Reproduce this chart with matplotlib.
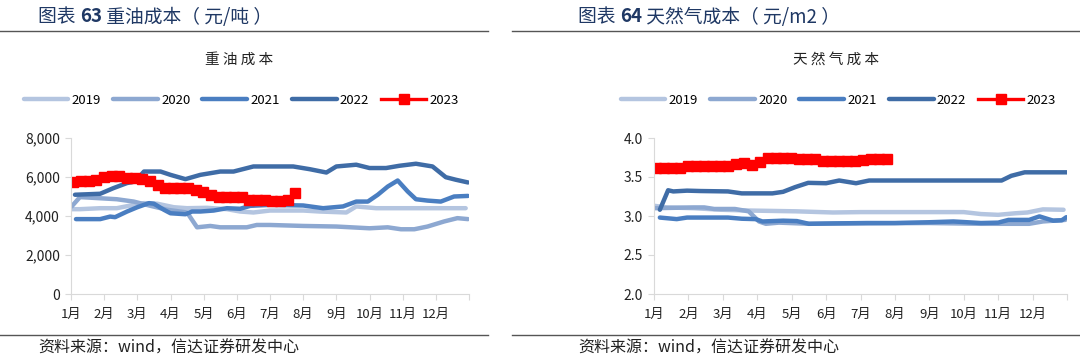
import numpy as np
import matplotlib
matplotlib.use('Agg')
import matplotlib.pyplot as plt

plt.rcParams['font.family'] = ['Noto Sans CJK SC', 'DejaVu Sans']

# month labels on x axis (position 0 = 1月)
months = ['1月', '2月', '3月', '4月', '5月', '6月', '7月', '8月', '9月', '10月', '11月', '12月']
years = ['2019', '2020', '2021', '2022', '2023']
colors = ['#B4C5E0', '#8DA8D1', '#4A7EC1', '#3F6CA6', '#FF0000']

# ---- heavy oil cost (元/吨), x in months ----
oil_2019_x = [0.02, 0.27, 0.88, 1.38, 1.89, 2.2, 2.6, 3.1, 3.5, 4.1, 4.7, 5.1, 5.5, 6.0, 7.0, 7.5, 8.3, 8.6, 9.2, 10.2, 11.9]
oil_2019_y = [4350, 4350, 4400, 4400, 4570, 4660, 4630, 4450, 4400, 4420, 4350, 4230, 4180, 4280, 4280, 4230, 4180, 4490, 4400, 4400, 4400]
oil_2020_x = [0.02, 0.27, 0.88, 1.38, 1.89, 2.4, 2.9, 3.5, 3.65, 3.8, 4.2, 4.5, 5.3, 5.6, 6.0, 7.0, 8.0, 9.0, 9.55, 9.95, 10.35, 10.75, 11.25, 11.65, 11.97]
oil_2020_y = [4490, 4970, 4910, 4860, 4740, 4520, 4320, 4180, 3800, 3420, 3490, 3420, 3420, 3540, 3540, 3490, 3460, 3370, 3420, 3320, 3320, 3460, 3720, 3890, 3840]
oil_2021_x = [0.15, 0.88, 1.18, 1.33, 1.69, 2.0, 2.35, 2.5, 2.8, 3.0, 3.45, 3.65, 3.9, 4.3, 4.7, 5.1, 5.4, 6.0, 7.0, 7.6, 8.2, 8.6, 8.95, 9.25, 9.55, 9.85, 10.15, 10.4, 10.75, 11.15, 11.55, 11.97]
oil_2021_y = [3840, 3840, 3970, 3940, 4230, 4450, 4660, 4630, 4320, 4140, 4090, 4230, 4230, 4280, 4400, 4370, 4520, 4570, 4540, 4400, 4490, 4740, 4740, 5090, 5510, 5820, 5260, 4860, 4790, 4740, 5000, 5030]
oil_2022_x = [0.12, 0.88, 1.28, 1.69, 1.94, 2.2, 2.7, 3.0, 3.45, 3.9, 4.5, 4.9, 5.5, 6.0, 6.7, 7.2, 7.7, 8.0, 8.6, 9.0, 9.5, 9.9, 10.4, 10.9, 11.3, 11.6, 11.97]
oil_2022_y = [5090, 5140, 5430, 5690, 5770, 6280, 6280, 6110, 5890, 6110, 6280, 6280, 6540, 6540, 6540, 6400, 6230, 6540, 6630, 6460, 6460, 6575, 6680, 6540, 5990, 5860, 5720]
# 2023 weekly readings
oil_2023 = [5750, 5790, 5820, 5850, 5990, 6040, 6040, 5960, 5930, 5900, 5780, 5600, 5420, 5420, 5430,
            5420, 5350, 5250, 5070, 4990, 4970, 4970, 4960, 4840, 4820, 4800, 4780, 4780, 4800, 5200]

# ---- natural gas cost (元/m2) ----
gas_2019_x = [0.02, 0.37, 1.16, 1.95, 2.75, 4.13, 5.2, 6.0, 8.0, 9.0, 9.5, 10.0, 10.5, 10.85, 11.3, 11.9]
gas_2019_y = [3.13, 3.11, 3.10, 3.08, 3.07, 3.06, 3.045, 3.05, 3.05, 3.05, 3.025, 3.015, 3.035, 3.045, 3.085, 3.08]
gas_2020_x = [0.02, 1.16, 1.46, 1.75, 2.35, 2.75, 3.05, 3.25, 3.63, 4.5, 6.0, 8.0, 9.5, 10.0, 10.9, 11.3, 11.95]
gas_2020_y = [3.10, 3.11, 3.11, 3.09, 3.09, 3.06, 2.93, 2.90, 2.915, 2.90, 2.905, 2.91, 2.90, 2.90, 2.90, 2.93, 2.95]
gas_2021_x = [0.17, 0.66, 0.96, 2.15, 2.55, 2.95, 3.15, 3.75, 4.15, 4.5, 5.2, 6.2, 7.0, 8.0, 8.7, 9.5, 10.0, 10.3, 10.9, 11.2, 11.6, 11.85, 11.98]
gas_2021_y = [2.98, 2.96, 2.98, 2.98, 2.965, 2.96, 2.93, 2.94, 2.935, 2.90, 2.905, 2.91, 2.91, 2.92, 2.93, 2.91, 2.915, 2.95, 2.95, 2.995, 2.94, 2.945, 2.985]
gas_2022_x = [0.17, 0.41, 0.56, 0.96, 1.36, 2.15, 2.55, 3.44, 3.75, 4.1, 4.48, 5.0, 5.38, 5.87, 6.25, 10.1, 10.38, 10.77, 12.0]
gas_2022_y = [3.08, 3.33, 3.315, 3.325, 3.32, 3.315, 3.29, 3.29, 3.31, 3.37, 3.425, 3.42, 3.455, 3.42, 3.455, 3.455, 3.515, 3.56, 3.56]
gas_2023 = [3.615, 3.615, 3.615, 3.615, 3.645, 3.645, 3.645, 3.645, 3.645, 3.645, 3.67, 3.675, 3.655, 3.69, 3.74,
            3.745, 3.745, 3.74, 3.735, 3.735, 3.725, 3.705, 3.70, 3.705, 3.71, 3.71, 3.715, 3.725, 3.73, 3.73]


def drawPanel(fig, rect, series, wk, yticks, ylabels):
    ax = fig.add_axes(rect)
    for i in range(4):
        ax.plot(series[i][0], series[i][1], color=colors[i], lw=3.2, solid_capstyle='round',
                solid_joinstyle='round', label=years[i])
    x23 = 0.07 + np.arange(len(wk)) * 12 / 52
    ax.plot(x23, wk, color=colors[4], lw=2.4, marker='s', ms=7, label=years[4])
    ax.set_xlim(0, 12)
    ax.set_ylim(yticks[0], yticks[-1])
    ax.set_xticks(range(13))
    ax.set_xticklabels(months + [''], fontsize=9.5, color='#222222')
    ax.set_yticks(yticks)
    ax.set_yticklabels(ylabels, fontsize=10, color='#222222')
    for s in ['top', 'right']:
        ax.spines[s].set_visible(False)
    for s in ['left', 'bottom']:
        ax.spines[s].set_color('#D9D9D9')
    ax.tick_params(axis='x', length=4, color='#D9D9D9', pad=6)
    ax.tick_params(axis='y', length=4, color='#D9D9D9', pad=4)
    return ax


fig = plt.figure(figsize=(10.8, 3.62), dpi=100)

oilSeries = [(oil_2019_x, oil_2019_y), (oil_2020_x, oil_2020_y), (oil_2021_x, oil_2021_y), (oil_2022_x, oil_2022_y)]
gasSeries = [(gas_2019_x, gas_2019_y), (gas_2020_x, gas_2020_y), (gas_2021_x, gas_2021_y), (gas_2022_x, gas_2022_y)]

ax0 = drawPanel(fig, [71/1080, 1-294/362, 398/1080, 156/362], oilSeries, oil_2023,
                [0, 2000, 4000, 6000, 8000], ['0', '2,000', '4,000', '6,000', '8,000'])
ax1 = drawPanel(fig, [654/1080, 1-294/362, 413/1080, 156/362], gasSeries, gas_2023,
                [2.0, 2.5, 3.0, 3.5, 4.0], ['2.0', '2.5', '3.0', '3.5', '4.0'])

# chart titles and legends
for cx, t, ax in [(239, '重 油 成 本', ax0), (836, '天 然 气 成 本', ax1)]:
    fig.text(cx/1080, 1-60/362, t, ha='center', va='center', fontsize=10.5, color='#222222')
    h, l = ax.get_legend_handles_labels()
    fig.legend(h, l, loc='center', bbox_to_anchor=(cx/1080 + 0.002, 1-100/362), ncol=5, frameon=False,
               fontsize=9.5, handlelength=3.4, handletextpad=0.25, columnspacing=0.9)

# header titles, rules and source notes
renderer = fig.canvas.get_renderer()
for x0, num, rest in [(38, '63', ' 重油成本（ 元/吨 ）'), (578, '64', ' 天然气成本（ 元/m2 ）')]:
    t1 = fig.text(x0/1080, 1-17/362, '图表 ', fontsize=13.5, color='#1F3864', va='center')
    w1 = t1.get_window_extent(renderer).width
    t2 = fig.text((x0 + w1)/1080, 1-17/362, num, fontsize=13.5, color='#1F3864', va='center', weight='bold')
    w2 = t2.get_window_extent(renderer).width
    fig.text((x0 + w1 + w2)/1080, 1-17/362, rest, fontsize=13.5, color='#1F3864', va='center')
    fig.text(x0/1080, 1-348/362, '资料来源：wind，信达证券研发中心', fontsize=11.5, color='#222222',
             va='center', style='italic')

for xa, xb in [(0, 488), (512, 1080)]:
    for yy in [31, 335]:
        fig.add_artist(plt.Line2D([xa/1080, xb/1080], [1-yy/362, 1-yy/362], color='#555555', lw=1))

fig.savefig('out.png', dpi=100)
